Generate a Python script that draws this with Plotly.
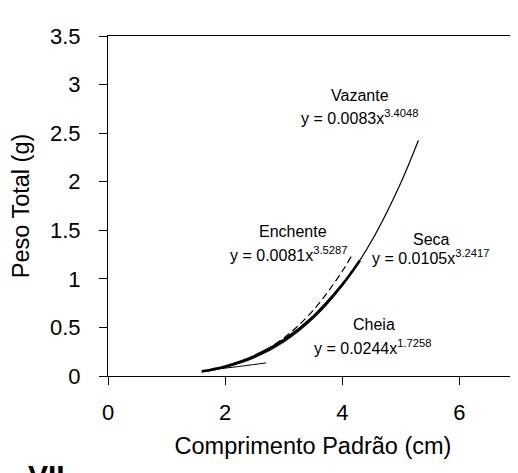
import plotly.graph_objects as go

# values (x = standard length in cm, y = total weight in g)
vazante_x = [1.6, 2.0, 2.5, 3.0, 3.5, 4.0, 4.5, 5.0, 5.3]
vazante_y = [0.041, 0.088, 0.188, 0.350, 0.591, 0.931, 1.390, 1.990, 2.426]

seca_x = [1.6, 2.0, 2.5, 3.0, 3.5, 4.0, 4.3]
seca_y = [0.048, 0.099, 0.205, 0.370, 0.609, 0.940, 1.188]

enchente_x = [2.0, 2.5, 3.0, 3.5, 4.0, 4.15]
enchente_y = [0.093, 0.205, 0.391, 0.674, 1.079, 1.229]

cheia_x = [1.9, 2.3, 2.7]
cheia_y = [0.074, 0.103, 0.135]

# name labels and equations, with their centre positions in data units
names = [("Vazante", 4.30, 2.89), ("Enchente", 3.16, 1.49), ("Seca", 5.53, 1.41), ("Cheia", 4.54, 0.535)]
equations = [
    ("y = 0.0083x<sup>3.4048</sup>", 4.30, 2.67),
    ("y = 0.0081x<sup>3.5287</sup>", 3.09, 1.26),
    ("y = 0.0105x<sup>3.2417</sup>", 5.51, 1.23),
    ("y = 0.0244x<sup>1.7258</sup>", 4.52, 0.30),
]

FONT = "Liberation Sans, Arial, sans-serif"

fig = go.Figure()

fig.add_trace(go.Scatter(x=vazante_x, y=vazante_y, mode="lines", line_shape="spline",
                         line=dict(color="black", width=1.2), name="Vazante"))
fig.add_trace(go.Scatter(x=seca_x, y=seca_y, mode="lines", line_shape="spline",
                         line=dict(color="black", width=2.6), name="Seca"))
fig.add_trace(go.Scatter(x=enchente_x, y=enchente_y, mode="lines", line_shape="spline",
                         line=dict(color="black", width=1.2, dash="7px,4px"), name="Enchente"))
fig.add_trace(go.Scatter(x=cheia_x, y=cheia_y, mode="lines", line_shape="spline",
                         line=dict(color="black", width=1.0), name="Cheia"))

for text, x, y in names + equations:
    fig.add_annotation(
        x=x, y=y, xref="x", yref="y",
        text=text, showarrow=False,
        xanchor="center", yanchor="middle",
        font=dict(family=FONT, size=16, color="black"),
    )

fig.add_annotation(
    x=-0.2, y=-0.237, xref="paper", yref="paper",
    text="<b>VII</b>", showarrow=False,
    xanchor="left", yanchor="top",
    font=dict(family=FONT, size=30, color="black"),
)

axis_common = dict(
    showline=True, linecolor="black", linewidth=1, mirror=True,
    showgrid=False, zeroline=False,
    ticks="outside", ticklen=8, tickcolor="black", tickwidth=1,
    tickfont=dict(family=FONT, size=22, color="black"),
    title_font=dict(family=FONT, size=23.5, color="black"),
)

fig.update_xaxes(range=[0, 7], tickvals=[0, 2, 4, 6], title_text="Comprimento Padrão (cm)",
                 ticklabelstandoff=9, title_standoff=13, **axis_common)
fig.update_yaxes(range=[0, 3.5], dtick=0.5, title_text="Peso Total (g)",
                 ticklabelstandoff=14, title_standoff=14, **axis_common)

fig.update_layout(
    width=518, height=473,
    margin=dict(l=100, r=8, t=28, b=105),
    plot_bgcolor="white", paper_bgcolor="white",
    showlegend=False,
    font=dict(family=FONT, color="black"),
)

fig.write_html("out.html")
